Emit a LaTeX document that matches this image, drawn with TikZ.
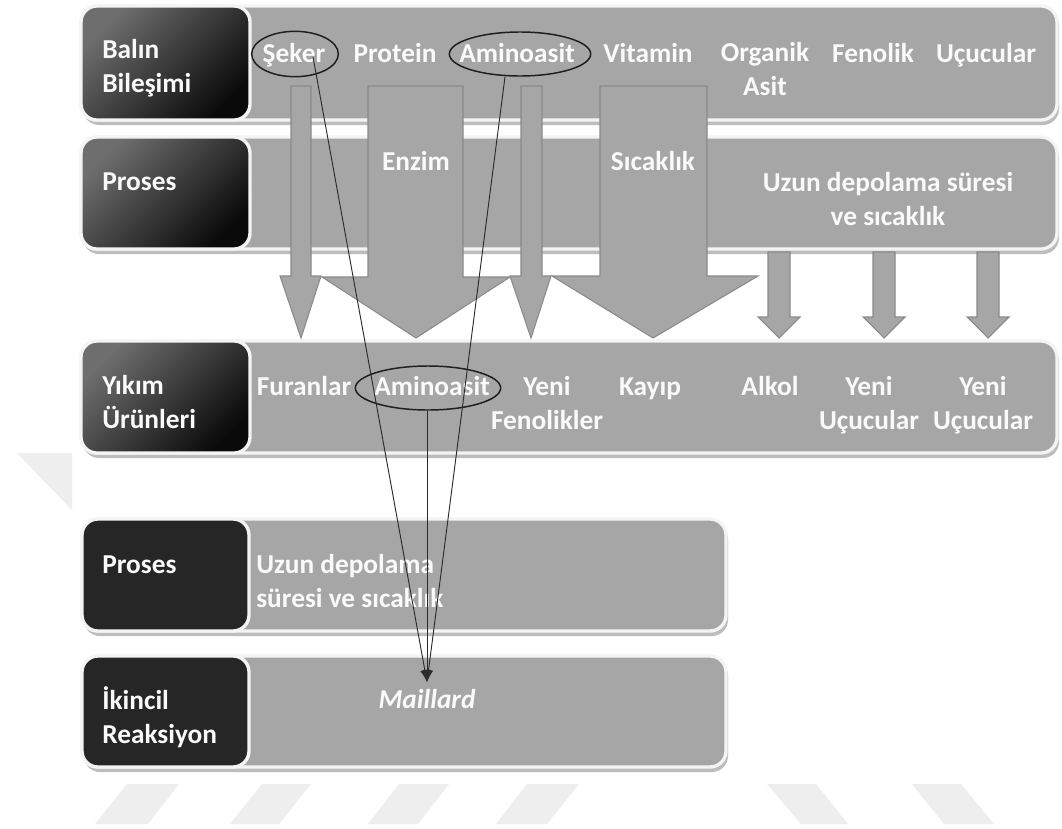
\documentclass[tikz,border=0pt]{standalone}
\usepackage{fontspec}
\setmainfont{Carlito}
\usetikzlibrary{arrows.meta,shapes.geometric}
\definecolor{band}{HTML}{A6A6A6}
\definecolor{bandedge}{HTML}{F4F4F4}
\definecolor{shadowc}{HTML}{BDBDBD}
\definecolor{arrowedge}{HTML}{8A8A8A}
\definecolor{darkbox}{HTML}{262626}
\definecolor{gradtop}{HTML}{6E6E6E}
\definecolor{gradbot}{HTML}{0A0A0A}
\definecolor{wmc}{HTML}{EEEEEE}
\definecolor{linec}{HTML}{2B2B2B}
\definecolor{ringc}{HTML}{1E1E1E}
\definecolor{textc}{HTML}{FAFAFA}
\begin{document}
\begin{tikzpicture}[x=0.75pt,y=-0.75pt,
  bandshadow/.style={fill=shadowc, rounded corners=12pt},
  bandbox/.style={fill=band, draw=bandedge, line width=2.5pt, rounded corners=12pt},
  gradbox/.style={draw=bandedge, line width=2.5pt, rounded corners=12pt, top color=gradtop, bottom color=gradbot, shading angle=45},
  flatbox/.style={fill=darkbox, draw=bandedge, line width=2.5pt, rounded corners=12pt},
  blockarrow/.style={fill=band, draw=arrowedge, line width=0.8pt, line join=miter},
  txt/.style={text=textc, font=\bfseries\fontsize{20.5}{25.5}\selectfont, inner sep=0pt},
  ring/.style={ellipse, draw=ringc, line width=1.1pt, inner sep=0pt},
  conn/.style={draw=linec, line width=0.7pt, -{Latex[length=9pt,width=7pt]}},
  wmark/.style={fill=wmc}
]
\useasboundingbox (0,0) rectangle (1062,828);
\fill[white] (0,0) rectangle (1062,828);

% watermark
\fill[wmark] (17,453) -- (72,453) -- (72,510) -- cycle;
\fill[wmark] (127,784) -- (179,784) -- (148,824) -- (95,824) -- cycle;
\fill[wmark] (262,784) -- (311,784) -- (279,824) -- (230,824) -- cycle;
\fill[wmark] (399,784) -- (449,784) -- (418,824) -- (368,824) -- cycle;
\fill[wmark] (527,784) -- (579,784) -- (547,824) -- (496,824) -- cycle;
\fill[wmark] (767,784) -- (816,784) -- (848,824) -- (801,824) -- cycle;
\fill[wmark] (912,784) -- (961,784) -- (994,824) -- (944,824) -- cycle;

% shadows
\fill[bandshadow] (83,10) rectangle (1059,125);
\fill[bandshadow] (83,141) rectangle (1059,254);
\fill[bandshadow] (83,345) rectangle (1059,458);
\fill[bandshadow] (84,523) rectangle (728,636);
\fill[bandshadow] (84,660) rectangle (728,772);

% bands
\draw[bandbox] (81,6) rectangle (1057,120);
\draw[bandbox] (81,137) rectangle (1057,249);
\draw[bandbox] (81,341) rectangle (1057,453);
\draw[bandbox] (82,519) rectangle (726,631);
\draw[bandbox] (82,656) rectangle (726,767);

% label boxes
\draw[gradbox] (81,6) rectangle (250,120);
\draw[gradbox] (81,137) rectangle (250,249);
\draw[gradbox] (81,341) rectangle (250,453);
\draw[flatbox] (82,519) rectangle (249,631);
\draw[flatbox] (82,656) rectangle (249,767);

% block arrows
\draw[blockarrow] (291,86) -- (311,86) -- (311,276) -- (321,276) -- (301,338) -- (280,276) -- (291,276) -- cycle;
\draw[blockarrow] (368,86) -- (463,86) -- (463,277) -- (510,277) -- (416,338) -- (322,277) -- (368,277) -- cycle;
\draw[blockarrow] (521,86) -- (542,86) -- (542,276) -- (551,276) -- (531,338) -- (510,276) -- (521,276) -- cycle;
\draw[blockarrow] (600,86) -- (707,86) -- (707,276) -- (758,276) -- (653,338) -- (552,276) -- (600,276) -- cycle;
\foreach \cx in {779,884,988}{
  \draw[blockarrow] (\cx-11,252) -- (\cx+11,252) -- (\cx+11,317) -- (\cx+21,317) -- (\cx,338) -- (\cx-21,317) -- (\cx-11,317) -- cycle;
}

% row labels (multi-line nodes: anchor point = last baseline)
\node[txt, anchor=base west, align=left] (l1) at (102,92) {Balın\\Bileşimi};
\node[txt, anchor=base west] (l2) at (102,190) {Proses};
\node[txt, anchor=base west, align=left] (l3) at (102,428) {Yıkım\\Ürünleri};
\node[txt, anchor=base west] (l4) at (102,573) {Proses};
\node[txt, anchor=base west, align=left] (l5) at (102,743) {İkincil\\Reaksiyon};

% row 1 items
\node[txt, anchor=base] (seker) at (294,62) {Şeker};
\node[txt, anchor=base] (protein) at (395,62) {Protein};
\node[txt, anchor=base] (amino1) at (517,62) {Aminoasit};
\node[txt, anchor=base] (vitamin) at (648,62) {Vitamin};
\node[txt, anchor=base, align=center] (organik) at (765,95) {Organik\\Asit};
\node[txt, anchor=base] (fenolik) at (873,62) {Fenolik};
\node[txt, anchor=base] (ucucu) at (986,62) {Uçucular};

% row 2 items
\node[txt, anchor=base] (enzim) at (416,170) {Enzim};
\node[txt, anchor=base] (sicak) at (653,170) {Sıcaklık};
\node[txt, anchor=base, align=center] (uzun1) at (888,225) {Uzun depolama süresi\\ve sıcaklık};

% row 3 items
\node[txt, anchor=base] (furan) at (304,395) {Furanlar};
\node[txt, anchor=base] (amino2) at (432,395) {Aminoasit};
\node[txt, anchor=base, align=center] (yenifen) at (547,429) {Yeni\\Fenolikler};
\node[txt, anchor=base] (kayip) at (650,395) {Kayıp};
\node[txt, anchor=base] (alkol) at (770,395) {Alkol};
\node[txt, anchor=base, align=center] (yeniuc1) at (869,429) {Yeni\\Uçucular};
\node[txt, anchor=base, align=center] (yeniuc2) at (983,429) {Yeni\\Uçucular};

% row 4, 5 items
\node[txt, anchor=base west, align=left] (uzun2) at (256,607) {Uzun depolama\\süresi ve sıcaklık};
\node[txt, anchor=base, font=\bfseries\itshape\fontsize{20.5}{25.5}\selectfont] (maillard) at (427,708) {Maillard};

% ellipses
\node[ring, minimum width=65pt, minimum height=34pt] (e1) at (295,54) {};
\node[ring, minimum width=106pt, minimum height=33pt] (e2) at (520,54) {};
\node[ring, minimum width=109pt, minimum height=33pt] (e3) at (428,388) {};

% connectors
\coordinate (mt) at (427,682);
\draw[conn] ([xshift=13.5pt,yshift=-2.25pt]e1.center) -- (mt);
\draw[conn] ([xshift=-11.25pt]e2.south) -- (mt);
\draw[conn] ([xshift=-0.75pt]e3.south) -- (mt);
\end{tikzpicture}
\end{document}
